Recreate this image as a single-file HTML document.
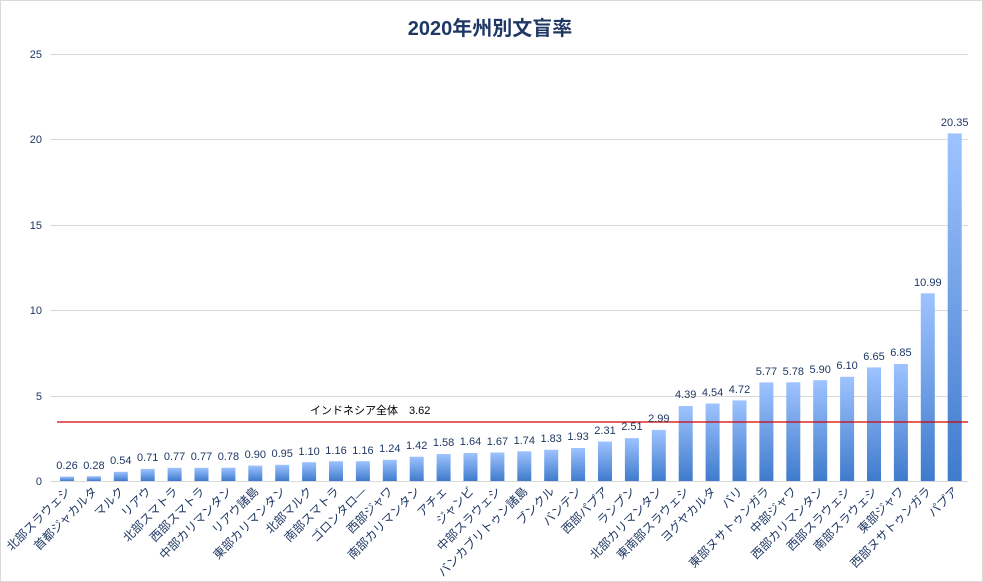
<!DOCTYPE html>
<html><head><meta charset="utf-8"><style>
html,body{margin:0;padding:0;background:#fff}
svg{display:block}
text{font-family:"Liberation Sans","Noto Sans CJK JP",sans-serif}
</style></head><body>
<svg width="983" height="582" viewBox="0 0 983 582" xmlns="http://www.w3.org/2000/svg">
<defs><linearGradient id="g" x1="0" y1="0" x2="0" y2="1"><stop offset="0" stop-color="#9ec3ff"/><stop offset="1" stop-color="#3f7bcc"/></linearGradient></defs>
<rect x="0.5" y="0.5" width="982" height="581" fill="#fff" stroke="#d9d9d9"/>
<text x="490" y="35" text-anchor="middle" font-size="20" font-weight="bold" fill="#1f3864">2020年州別文盲率</text>
<g stroke="#d9d9d9" stroke-width="1">
<line x1="50" x2="968" y1="54.5" y2="54.5"/><line x1="50" x2="968" y1="139.5" y2="139.5"/><line x1="50" x2="968" y1="225.5" y2="225.5"/><line x1="50" x2="968" y1="310.5" y2="310.5"/><line x1="50" x2="968" y1="396.5" y2="396.5"/><line x1="50" x2="968" y1="481.5" y2="481.5"/>
</g>
<g font-size="11" fill="#1f3864" text-anchor="end">
<text x="42" y="58">25</text><text x="42" y="143">20</text><text x="42" y="229">15</text><text x="42" y="314">10</text><text x="42" y="400">5</text><text x="42" y="485">0</text>
</g>
<g fill="url(#g)">
<rect x="60" y="476.6" width="14" height="4.4"/>
<rect x="86.9" y="476.2" width="14" height="4.8"/>
<rect x="113.8" y="471.8" width="14" height="9.2"/>
<rect x="140.7" y="468.9" width="14" height="12.1"/>
<rect x="167.6" y="467.8" width="14" height="13.2"/>
<rect x="194.5" y="467.8" width="14" height="13.2"/>
<rect x="221.4" y="467.7" width="14" height="13.3"/>
<rect x="248.3" y="465.6" width="14" height="15.4"/>
<rect x="275.2" y="464.8" width="14" height="16.2"/>
<rect x="302.1" y="462.2" width="14" height="18.8"/>
<rect x="329" y="461.2" width="14" height="19.8"/>
<rect x="355.9" y="461.2" width="14" height="19.8"/>
<rect x="382.8" y="459.8" width="14" height="21.2"/>
<rect x="409.7" y="456.7" width="14" height="24.3"/>
<rect x="436.6" y="454" width="14" height="27"/>
<rect x="463.5" y="453" width="14" height="28"/>
<rect x="490.4" y="452.5" width="14" height="28.5"/>
<rect x="517.3" y="451.3" width="14" height="29.7"/>
<rect x="544.2" y="449.7" width="14" height="31.3"/>
<rect x="571.1" y="448" width="14" height="33"/>
<rect x="598" y="441.5" width="14" height="39.5"/>
<rect x="624.9" y="438.1" width="14" height="42.9"/>
<rect x="651.8" y="429.9" width="14" height="51.1"/>
<rect x="678.7" y="406" width="14" height="75"/>
<rect x="705.6" y="403.5" width="14" height="77.5"/>
<rect x="732.5" y="400.4" width="14" height="80.6"/>
<rect x="759.4" y="382.4" width="14" height="98.6"/>
<rect x="786.3" y="382.3" width="14" height="98.7"/>
<rect x="813.2" y="380.2" width="14" height="100.8"/>
<rect x="840.1" y="376.8" width="14" height="104.2"/>
<rect x="867" y="367.4" width="14" height="113.6"/>
<rect x="893.9" y="364" width="14" height="117"/>
<rect x="920.8" y="293.3" width="14" height="187.7"/>
<rect x="947.7" y="133.4" width="14" height="347.6"/>
</g>
<line x1="57" x2="968" y1="422" y2="422" stroke="#d40000" stroke-width="1.3"/>
<text x="310" y="414" font-size="11" fill="#000">インドネシア全体　3.62</text>
<g font-size="11" fill="#1f3864" text-anchor="middle">
<text x="67" y="469">0.26</text><text x="93.9" y="469">0.28</text><text x="120.8" y="464">0.54</text><text x="147.7" y="461">0.71</text><text x="174.6" y="460">0.77</text><text x="201.5" y="460">0.77</text><text x="228.4" y="460">0.78</text><text x="255.3" y="458">0.90</text><text x="282.2" y="457">0.95</text><text x="309.1" y="455">1.10</text><text x="336" y="454">1.16</text><text x="362.9" y="454">1.16</text><text x="389.8" y="452">1.24</text><text x="416.7" y="449">1.42</text><text x="443.6" y="446">1.58</text><text x="470.5" y="445">1.64</text><text x="497.4" y="445">1.67</text><text x="524.3" y="444">1.74</text><text x="551.2" y="442">1.83</text><text x="578.1" y="440">1.93</text><text x="605" y="434">2.31</text><text x="631.9" y="430">2.51</text><text x="658.8" y="422">2.99</text><text x="685.7" y="398">4.39</text><text x="712.6" y="396">4.54</text><text x="739.5" y="393">4.72</text><text x="766.4" y="375">5.77</text><text x="793.3" y="375">5.78</text><text x="820.2" y="373">5.90</text><text x="847.1" y="369">6.10</text><text x="874" y="360">6.65</text><text x="900.9" y="356">6.85</text><text x="927.8" y="286">10.99</text><text x="954.7" y="126">20.35</text>
</g>
<g font-size="12" fill="#1f3864" text-anchor="end">
<text transform="translate(71,492) rotate(-45)">北部スラウェシ</text>
<text transform="translate(97.9,492) rotate(-45)">首都ジャカルタ</text>
<text transform="translate(124.8,492) rotate(-45)">マルク</text>
<text transform="translate(151.7,492) rotate(-45)">リアウ</text>
<text transform="translate(178.6,492) rotate(-45)">北部スマトラ</text>
<text transform="translate(205.5,492) rotate(-45)">西部スマトラ</text>
<text transform="translate(232.4,492) rotate(-45)">中部カリマンタン</text>
<text transform="translate(259.3,492) rotate(-45)">リアウ諸島</text>
<text transform="translate(286.2,492) rotate(-45)">東部カリマンタン</text>
<text transform="translate(313.1,492) rotate(-45)">北部マルク</text>
<text transform="translate(340,492) rotate(-45)">南部スマトラ</text>
<text transform="translate(366.9,492) rotate(-45)">ゴロンタロ―</text>
<text transform="translate(393.8,492) rotate(-45)">西部ジャワ</text>
<text transform="translate(420.7,492) rotate(-45)">南部カリマンタン</text>
<text transform="translate(447.6,492) rotate(-45)">アチェ</text>
<text transform="translate(474.5,492) rotate(-45)">ジャンビ</text>
<text transform="translate(501.4,492) rotate(-45)">中部スラウェシ</text>
<text transform="translate(528.3,492) rotate(-45)">バンカブリトゥン諸島</text>
<text transform="translate(555.2,492) rotate(-45)">ブンクル</text>
<text transform="translate(582.1,492) rotate(-45)">バンテン</text>
<text transform="translate(609,492) rotate(-45)">西部パプア</text>
<text transform="translate(635.9,492) rotate(-45)">ランプン</text>
<text transform="translate(662.8,492) rotate(-45)">北部カリマンタン</text>
<text transform="translate(689.7,492) rotate(-45)">東南部スラウェシ</text>
<text transform="translate(716.6,492) rotate(-45)">ヨグヤカルタ</text>
<text transform="translate(743.5,492) rotate(-45)">バリ</text>
<text transform="translate(770.4,492) rotate(-45)">東部ヌサトゥンガラ</text>
<text transform="translate(797.3,492) rotate(-45)">中部ジャワ</text>
<text transform="translate(824.2,492) rotate(-45)">西部カリマンタン</text>
<text transform="translate(851.1,492) rotate(-45)">西部スラウェシ</text>
<text transform="translate(878,492) rotate(-45)">南部スラウェシ</text>
<text transform="translate(904.9,492) rotate(-45)">東部ジャワ</text>
<text transform="translate(931.8,492) rotate(-45)">西部ヌサトゥンガラ</text>
<text transform="translate(958.7,492) rotate(-45)">パプア</text>
</g>
</svg>
</body></html>
